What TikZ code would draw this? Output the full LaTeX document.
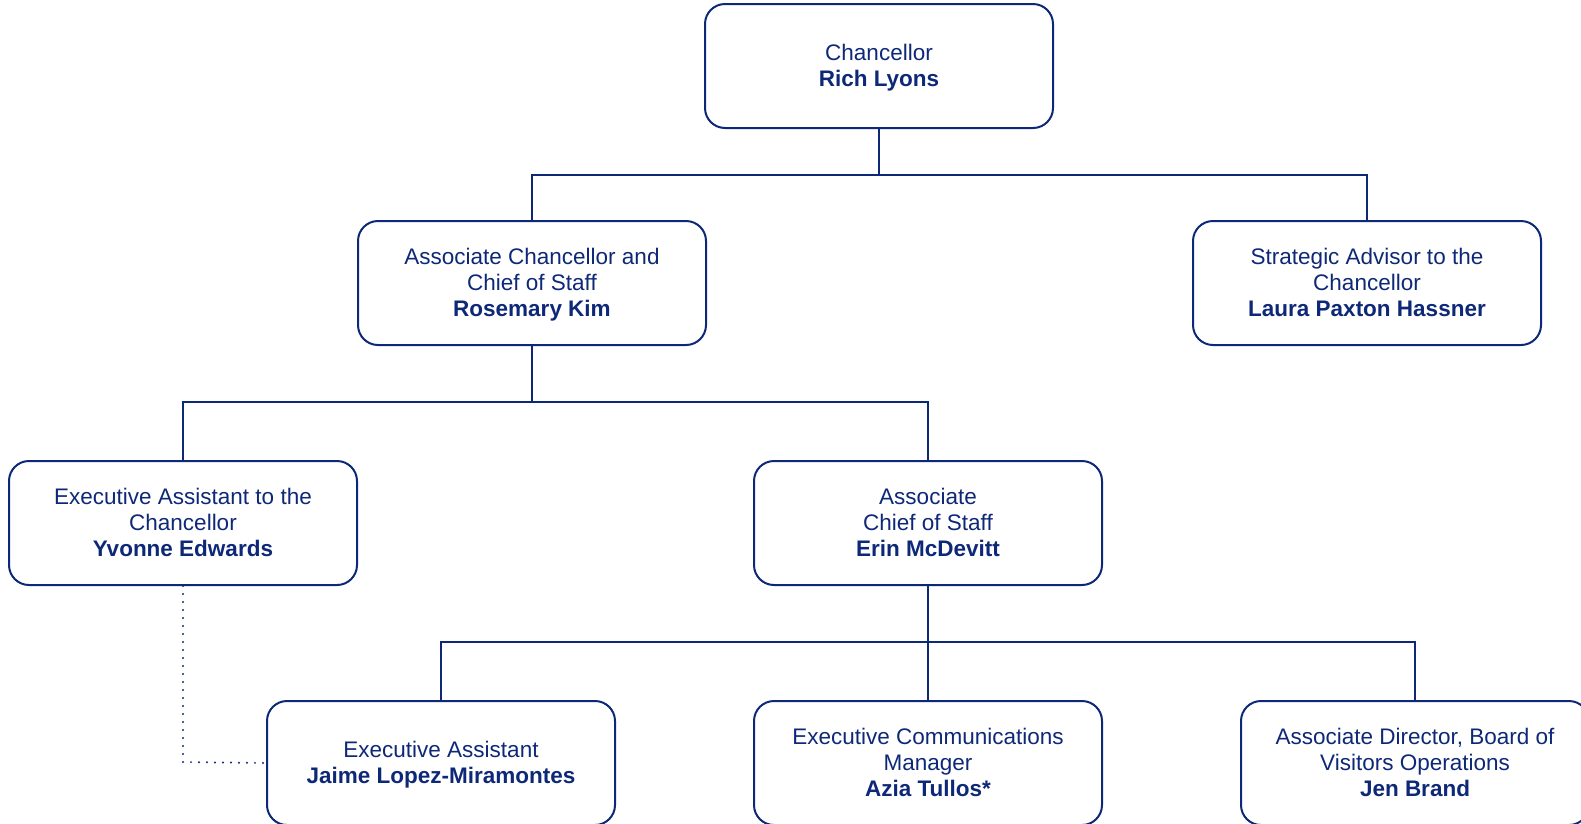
\documentclass[tikz,border=0pt]{standalone}
\usepackage{fontspec}
\setmainfont{Liberation Sans}
\definecolor{navy}{RGB}{14,40,120}
\tikzset{
  orgbox/.style={draw=navy, line width=2pt, rounded corners=20pt, minimum width=348pt, minimum height=124pt, align=center, text=navy, font=\fontsize{22.5}{26}\selectfont, inner sep=0pt},
  link/.style={draw=navy, line width=2pt},
  dotlink/.style={draw=navy, line width=2.2pt, dash pattern=on 0pt off 8pt, line cap=round}
}
\newcommand{\st}{\rule[-5.8pt]{0pt}{26pt}}
\begin{document}
\begin{tikzpicture}[x=1pt,y=-1pt]
\useasboundingbox (0,0) rectangle (1581,823);
\clip (0,0) rectangle (1581,823);
\node[orgbox] (chan) at (879,66) {\st Chancellor\\\st\textbf{Rich Lyons}};
\node[orgbox] (acos) at (532,283) {\st Associate Chancellor and\\\st Chief of Staff\\\st\textbf{Rosemary Kim}};
\node[orgbox] (sadv) at (1367,283) {\st Strategic Advisor to the\\\st Chancellor\\\st\textbf{Laura Paxton Hassner}};
\node[orgbox] (eatc) at (183,523) {\st Executive Assistant to the\\\st Chancellor\\\st\textbf{Yvonne Edwards}};
\node[orgbox] (assoc) at (928,523) {\st Associate\\\st Chief of Staff\\\st\textbf{Erin McDevitt}};
\node[orgbox] (ea) at (441,763) {\st Executive Assistant\\\st\textbf{Jaime Lopez-Miramontes}};
\node[orgbox] (ecm) at (928,763) {\st Executive Communications\\\st Manager\\\st\textbf{Azia Tullos*}};
\node[orgbox] (adb) at (1415,763) {\st Associate Director, Board of\\\st Visitors Operations\\\st\textbf{Jen Brand}};
\coordinate (b1) at (879,174.5);
\coordinate (b2) at (532,402);
\coordinate (b3) at (928,642);
\coordinate (dc) at (183,762);
\draw[link] (chan.south) -- (b1);
\draw[link] (acos.north) |- (b1) -| (sadv.north);
\draw[link] (acos.south) -- (b2);
\draw[link] (eatc.north) |- (b2) -| (assoc.north);
\draw[link] (assoc.south) -- (b3);
\draw[link] (ea.north) |- (b3) -| (adb.north);
\draw[link] (b3) -- (ecm.north);
\draw[dotlink] (eatc.south) -- (dc) -- (ea.west);
\end{tikzpicture}
\end{document}
